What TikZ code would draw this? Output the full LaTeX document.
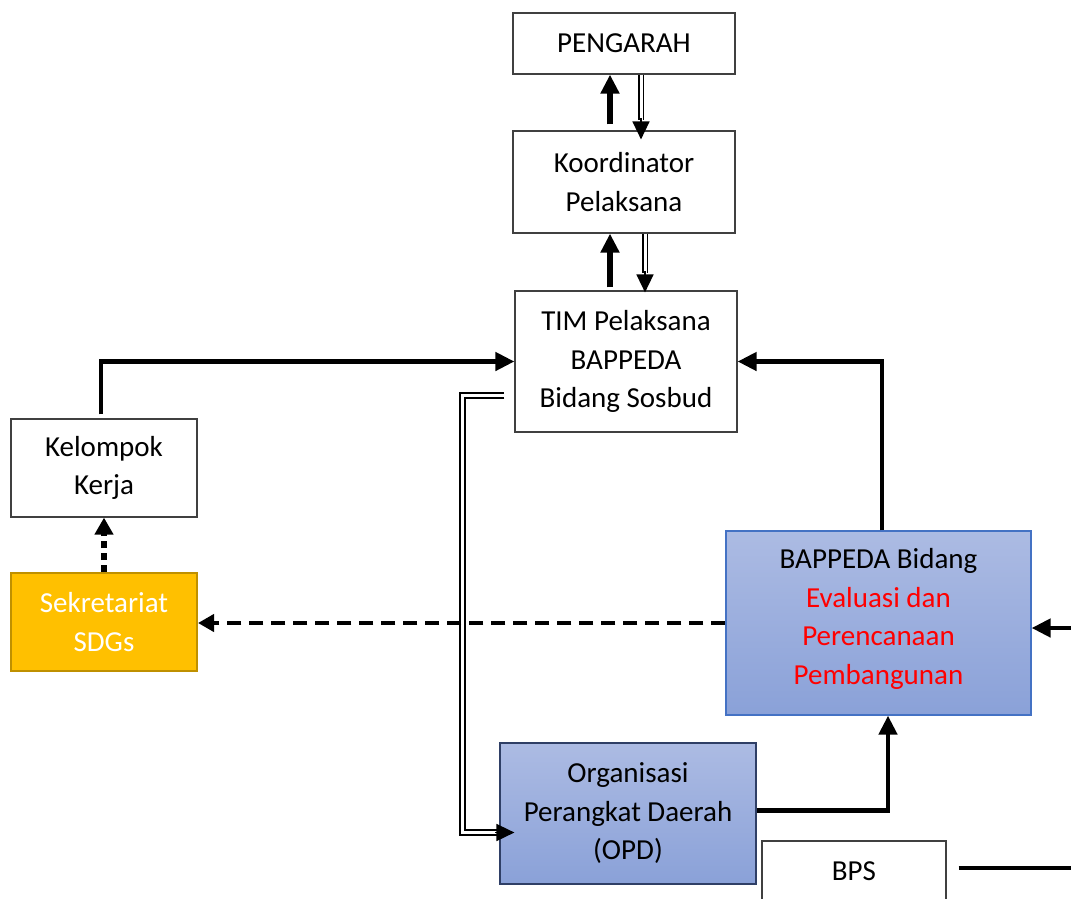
\documentclass[tikz,border=0pt]{standalone}
\usepackage{fontspec}
\setmainfont{Carlito}
\usetikzlibrary{arrows.meta,calc}

\definecolor{boxline}{HTML}{404040}
\definecolor{sdgfill}{HTML}{FFC000}
\definecolor{sdgline}{HTML}{BF9000}
\definecolor{bluetop}{HTML}{ACBBE3}
\definecolor{bluebot}{HTML}{8AA1D8}
\definecolor{blueline}{HTML}{4472C4}
\definecolor{navyline}{HTML}{2F3F66}
\definecolor{evalred}{HTML}{FF0000}

\tikzset{
  box/.style={draw=boxline, line width=1.2pt, fill=white, align=center,
    inner sep=0pt, font=\fontsize{29}{38.5}\selectfont},
  bluebox/.style={box, top color=bluetop, bottom color=bluebot},
  sdgbox/.style={box, fill=sdgfill, draw=sdgline, line width=2pt, text=white},
  bigtip/.style={-{Triangle[width=18pt,length=19pt]}},
  thickarrow/.style={bigtip, line width=5.5pt},
  connector/.style={bigtip, line width=4.5pt},
  dottedarrow/.style={-{Triangle[width=18pt,length=17pt]}, line width=6pt,
    dash pattern=on 7pt off 5pt},
  dashedarrow/.style={-{Triangle[width=17pt,length=16pt]}, line width=4pt,
    dash pattern=on 14pt off 8pt},
  dblline/.style={double, line width=1.6pt, double distance=3pt},
  dbltip/.style={-{Triangle[width=17pt,length=18pt]}, line width=1.6pt},
  plainline/.style={line width=4.5pt}
}

\begin{document}
\begin{tikzpicture}[x=1pt, y=-1pt]
  \useasboundingbox (0,0) rectangle (1071,898);
  \clip (0,0) rectangle (1071,898);

  % boxes
  \node[box, minimum width=222pt, minimum height=61pt] (peng) at (624,43.5) {PENGARAH};
  \node[box, minimum width=222pt, minimum height=102pt] (koord) at (624,182) {Koordinator\\Pelaksana};
  \node[box, minimum width=222pt, minimum height=141pt] (tim) at (626,361.5) {TIM Pelaksana\\BAPPEDA\\Bidang Sosbud};
  \node[box, minimum width=186pt, minimum height=98pt] (kk) at (104,468) {Kelompok\\Kerja};
  \node[sdgbox, minimum width=186pt, minimum height=98pt] (sek) at (104,622) {Sekretariat\\SDGs};
  \node[bluebox, draw=blueline, minimum width=305pt, minimum height=184pt] (bap) at (878.5,623) {};
  \node[font=\fontsize{29}{38.5}\selectfont, align=center, inner sep=0pt] (baptext) at ([yshift=4pt]bap.center)
    {BAPPEDA Bidang\\\textcolor{evalred}{Evaluasi dan}\\\textcolor{evalred}{Perencanaan}\\\textcolor{evalred}{Pembangunan}};
  \node[bluebox, draw=navyline, minimum width=256pt, minimum height=141pt] (opd) at (628,813.5)
    {Organisasi\\Perangkat Daerah\\(OPD)};
  \node[box, minimum width=184pt, minimum height=60pt] (bps) at (854,871) {BPS};

  % free ends at the right margin
  \coordinate (rin) at (1085,628);
  \coordinate (bpsout) at (1085,868);

  % Koordinator <-> PENGARAH
  \draw[thickarrow] ([xshift=-14pt,yshift=6pt]koord.north) -- ([xshift=-14pt]peng.south);
  \draw[dblline] ([xshift=17pt]peng.south) -- ([xshift=17pt,yshift=10pt]koord.north);
  \draw[dbltip] ([xshift=17pt,yshift=12pt]koord.north) -- ([xshift=17pt,yshift=-9pt]koord.north);

  % TIM <-> Koordinator
  \draw[thickarrow] ([xshift=-16pt,yshift=3pt]tim.north) -- ([xshift=-14pt]koord.south);
  \draw[dblline] ([xshift=21pt]koord.south) -- ([xshift=19pt,yshift=17pt]tim.north);
  \draw[dbltip] ([xshift=19pt,yshift=19pt]tim.north) -- ([xshift=19pt,yshift=-2pt]tim.north);

  % into TIM
  \draw[connector] ([xshift=-3pt,yshift=4pt]kk.north) |- (tim.west);
  \draw[connector] ([xshift=3.5pt]bap.north) |- (tim.east);

  % TIM => OPD
  \draw[dblline] ([xshift=-10pt,yshift=-34pt]tim.west) -| ([xshift=-37pt,yshift=-19pt]opd.west)
    -- ([xshift=1pt,yshift=-19pt]opd.west);
  \draw[dbltip] ([xshift=-4pt,yshift=-19pt]opd.west) -- ([xshift=15pt,yshift=-19pt]opd.west);

  % Sekretariat -> Kelompok Kerja
  \draw[dottedarrow] (sek.north) -- (kk.south);

  % BAPPEDA Bidang -> Sekretariat
  \draw[dashedarrow] (bap.west) -- (bap.west -| sek.east);

  % OPD -> BAPPEDA Bidang
  \draw[connector] ([yshift=3pt]opd.east) -| ([xshift=9.5pt]bap.south);

  % right margin -> BAPPEDA Bidang
  \draw[connector] (rin) -- (rin -| bap.east);

  % BPS line
  \draw[plainline] ([xshift=12pt]bps.east |- bpsout) -- (bpsout);
\end{tikzpicture}
\end{document}
